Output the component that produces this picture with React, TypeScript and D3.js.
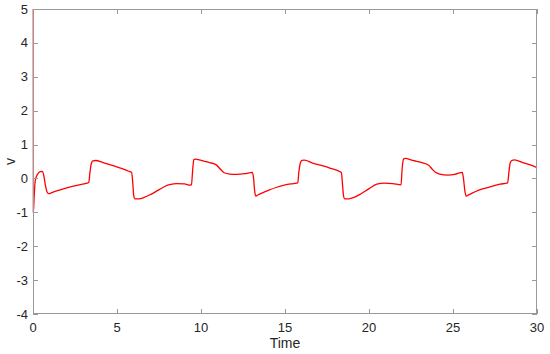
import { useEffect, useRef } from 'react';
import * as d3 from 'd3';

// time samples and response values
const timeValues = [
  0, 0.005, 0.05, 0.12, 0.25, 0.42, 0.55, 0.62, 0.72, 0.82, 0.92, 1.1, 1.6, 2.2, 2.8, 3.2, 3.3,
  3.38, 3.46, 3.55, 3.7, 4.2, 4.8, 5.3, 5.65, 5.85,
  5.92, 5.98, 6.05, 6.3, 6.6, 7.0, 7.5, 8.0, 8.5, 9.0, 9.35, 9.42,
  9.5, 9.56, 9.65, 10.0, 10.5, 10.9, 11.15, 11.4, 11.7, 12.1, 12.6, 13.05,
  13.12, 13.18, 13.25, 13.4, 14.0, 14.5, 15.0, 15.5, 15.75,
  15.82, 15.9, 16.0, 16.15, 16.6, 17.1, 17.7, 18.27, 18.35,
  18.42, 18.48, 18.55, 18.8, 19.1, 19.5, 20.0, 20.46, 20.9, 21.4, 21.9,
  21.97, 22.05, 22.15, 22.6, 23.2, 23.55, 23.75, 23.95, 24.2, 24.7, 25.1, 25.55,
  25.62, 25.7, 25.78, 25.95, 26.5, 27.2, 27.8, 28.25,
  28.33, 28.4, 28.5, 28.65, 29.2, 29.6, 30,
];
const vValues = [
  5, -1.0, -0.55, -0.05, 0.12, 0.2, 0.21, 0.1, -0.2, -0.4, -0.45, -0.42, -0.34, -0.25, -0.18, -0.14, -0.12,
  0.2, 0.45, 0.52, 0.53, 0.46, 0.37, 0.29, 0.22, 0.18,
  -0.1, -0.5, -0.6, -0.6, -0.56, -0.47, -0.33, -0.2, -0.15, -0.16, -0.2, -0.18,
  0.3, 0.55, 0.57, 0.53, 0.47, 0.4, 0.27, 0.16, 0.13, 0.12, 0.14, 0.18,
  0, -0.35, -0.52, -0.48, -0.35, -0.26, -0.19, -0.15, -0.13,
  0.2, 0.45, 0.53, 0.54, 0.46, 0.39, 0.3, 0.2, 0.17,
  -0.2, -0.52, -0.6, -0.6, -0.56, -0.46, -0.3, -0.17, -0.14, -0.15, -0.19,
  0.3, 0.57, 0.59, 0.53, 0.46, 0.39, 0.28, 0.18, 0.13, 0.1, 0.12, 0.18,
  0, -0.35, -0.52, -0.48, -0.35, -0.25, -0.17, -0.13,
  0.2, 0.45, 0.53, 0.55, 0.46, 0.4, 0.32,
];
const xTicks = [0, 5, 10, 15, 20, 25, 30];
const yTicks = [-4, -3, -2, -1, 0, 1, 2, 3, 4, 5];

export default function App() {
  const svgRef = useRef<SVGSVGElement>(null);

  useEffect(() => {
    const width = 550;
    const height = 354;
    const left = 33, right = 537, top = 9, bottom = 314;
    const axisColor = '#999999';
    const textColor = '#262626';
    const font = '"Liberation Sans", Arial, sans-serif';

    const svg = d3.select(svgRef.current);
    svg.selectAll('*').remove();
    svg.attr('viewBox', `0 0 ${width} ${height}`);

    const x = d3.scaleLinear().domain([0, 30]).range([left, right]);
    const y = d3.scaleLinear().domain([-4, 5]).range([bottom, top]);
    // trace sits a hair right so the t=0 spike only tints the axis line
    const xLine = d3.scaleLinear().domain([0, 30]).range([left + 0.3, right]);

    const data = timeValues.map((t, i) => ({ t, v: vValues[i] }));

    svg.append('rect')
      .attr('x', left).attr('y', top)
      .attr('width', right - left).attr('height', bottom - top)
      .attr('fill', '#fff');

    const line = d3.line<{ t: number; v: number }>()
      .x((d) => xLine(d.t))
      .y((d) => y(d.v))
      .curve(d3.curveMonotoneX);

    svg.append('path')
      .datum(data)
      .attr('d', line)
      .attr('fill', 'none')
      .attr('stroke', '#ff0000')
      .attr('stroke-width', 1.3)
      .attr('stroke-linejoin', 'round');

    // box + inward ticks on all four sides, drawn over the trace
    const g = svg.append('g').attr('stroke', axisColor).attr('stroke-width', 1).attr('fill', 'none');
    g.append('rect')
      .attr('x', left + 0.5).attr('y', top + 0.5)
      .attr('width', right - left - 1).attr('height', bottom - top - 1);

    const tickLen = 5;
    xTicks.forEach((t) => {
      const px = Math.round(x(t)) + 0.5;
      g.append('line').attr('x1', px).attr('x2', px).attr('y1', bottom).attr('y2', bottom - tickLen);
      g.append('line').attr('x1', px).attr('x2', px).attr('y1', top).attr('y2', top + tickLen);
    });
    yTicks.forEach((v) => {
      const py = Math.round(y(v)) + 0.5;
      g.append('line').attr('x1', left).attr('x2', left + tickLen).attr('y1', py).attr('y2', py);
      g.append('line').attr('x1', right).attr('x2', right - tickLen).attr('y1', py).attr('y2', py);
    });

    svg.append('g')
      .selectAll('text')
      .data(xTicks)
      .join('text')
      .attr('x', (d) => x(d))
      .attr('y', bottom + 18)
      .attr('text-anchor', 'middle')
      .attr('font-family', font)
      .attr('font-size', 13)
      .attr('fill', textColor)
      .text((d) => d);

    svg.append('g')
      .selectAll('text')
      .data(yTicks)
      .join('text')
      .attr('x', left - 5)
      .attr('y', (d) => y(d) + 4.5)
      .attr('text-anchor', 'end')
      .attr('font-family', font)
      .attr('font-size', 13)
      .attr('fill', textColor)
      .text((d) => d);

    svg.append('text')
      .attr('x', (left + right) / 2)
      .attr('y', bottom + 34)
      .attr('text-anchor', 'middle')
      .attr('font-family', font)
      .attr('font-size', 14)
      .attr('fill', textColor)
      .text('Time');

    svg.append('text')
      .attr('transform', `translate(15,${(top + bottom) / 2}) rotate(-90)`)
      .attr('text-anchor', 'middle')
      .attr('font-family', font)
      .attr('font-size', 14)
      .attr('fill', textColor)
      .text('v');
  }, []);

  return (
    <div style={{ position: 'fixed', left: 0, top: 0 }}>
      <svg ref={svgRef} width={550} height={354} style={{ display: 'block', background: '#fff' }} />
    </div>
  );
}
